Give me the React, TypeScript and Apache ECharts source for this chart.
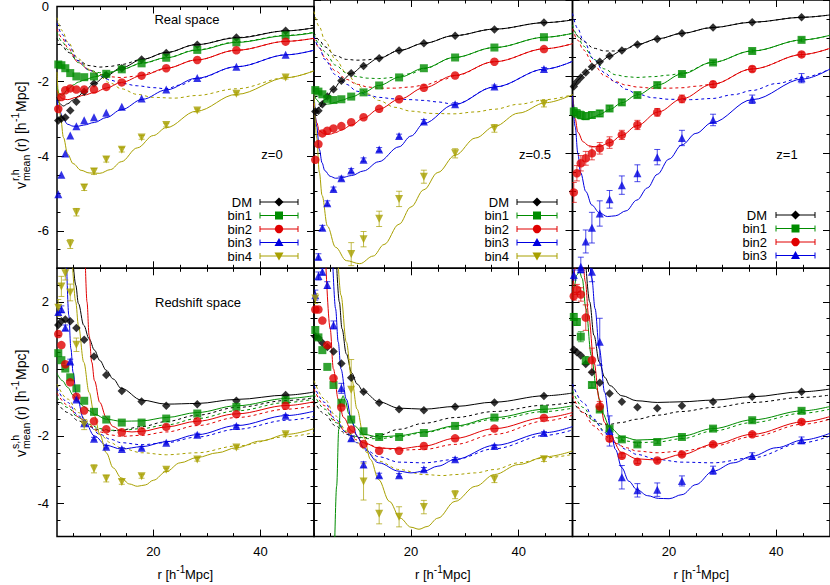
import React, { useEffect, useRef } from 'react';
import * as echarts from 'echarts';

const FONT = '"Liberation Sans", Arial, Helvetica, sans-serif';

// ---------- separation bins (h^-1 Mpc) ----------
const R = [2.24, 2.82, 3.55, 4.47, 5.62, 7.08, 8.91, 11.2, 14.1, 17.8, 22.4, 28.2, 35.5, 44.7];

// ---------- tick values ----------
const X_MAJOR = [20, 40];
const X_MINOR = [5, 10, 15, 25, 30, 35, 45, 50];
const Y_TOP_MAJOR = [-6, -4, -2, 0];
const Y_TOP_MINOR = [-6.5, -5.5, -5, -4.5, -3.5, -3, -2.5, -1.5, -1, -0.5];
const Y_BOT_MAJOR = [-4, -2, 0, 2];
const Y_BOT_MINOR = [-4.5, -3.5, -3, -2.5, -1.5, -1, -0.5, 0.5, 1, 1.5, 2.5];

const LEGEND_KEYS = ['dm', 'b1', 'b2', 'b3', 'b4'];
const LEGEND_LABELS = ['DM', 'bin1', 'bin2', 'bin3', 'bin4'];

// ================= REAL SPACE, z=0 =================
const rz0_dm = [-3.05, -3.0, -2.97, -2.78, -2.55, -2.28, -2.06, -1.84, -1.65, -1.42, -1.24, -1.02, -0.83, -0.65];
const rz0_b1 = [-1.55, -1.57, -1.65, -1.78, -1.87, -1.89, -1.87, -1.8, -1.68, -1.52, -1.37, -1.16, -0.96, -0.77];
const rz0_b2 = [-2.74, -2.42, -2.24, -2.19, -2.22, -2.22, -2.22, -2.15, -2.03, -1.85, -1.65, -1.43, -1.17, -0.94];
const rz0_b3 = [-5.02, -4.5, -3.93, -3.45, -3.2, -3.04, -2.96, -2.84, -2.68, -2.46, -2.22, -1.91, -1.61, -1.29];
const rz0_b4 = [null, null, null, -6.35, -5.5, -4.84, -4.41, -4.09, -3.83, -3.5, -3.17, -2.78, -2.33, -1.9];
const rz0_b4_err = [0, 0, 0, 0.12, 0.1, 0.08, 0.08, 0.07, 0.06, 0.05, 0.05, 0.04, 0.04, 0.04];

const rz0_dm_fit = [[2, -2.42], [2.5, -2.6], [3.2, -2.66], [4, -2.6], [5, -2.5], [6, -2.4], [7, -2.27], [9, -2.05], [11.2, -1.85], [14, -1.64], [18, -1.41], [22.4, -1.23], [28, -1.02], [35.5, -0.84], [45, -0.65], [50, -0.57]];
const rz0_dm_dash = [[2, -0.85], [3, -1.05], [4, -1.22], [6, -1.45], [8, -1.58], [10, -1.62], [12, -1.6], [14, -1.55], [18, -1.41], [22.4, -1.23], [28, -1.02], [35.5, -0.83], [45, -0.65], [50, -0.57]];
const rz0_b1_fit = [[2, -2.15], [2.5, -2.35], [3, -2.37], [4, -2.22], [5, -2.1], [6, -2.02], [7, -1.97], [9, -1.88], [11.2, -1.8], [14, -1.68], [18, -1.51], [22.4, -1.37], [28, -1.17], [35.5, -0.96], [45, -0.78], [50, -0.7]];
const rz0_b1_dash = [[2, -0.7], [3, -0.95], [4, -1.15], [6, -1.5], [8, -1.7], [10, -1.77], [12, -1.75], [14, -1.68], [18, -1.52], [22.4, -1.37], [28, -1.16], [35.5, -0.95], [45, -0.77], [50, -0.69]];
const rz0_b2_fit = [[2, -2.25], [2.5, -2.4], [3, -2.47], [4, -2.49], [5.6, -2.43], [7, -2.37], [9, -2.3], [11.2, -2.18], [14, -2.03], [18, -1.84], [22.4, -1.65], [28, -1.43], [35.5, -1.17], [45, -0.93], [50, -0.85]];
const rz0_b2_dash = [[2, -0.6], [3, -0.85], [4, -1.1], [6, -1.5], [8, -1.7], [10, -1.82], [12, -1.88], [14, -1.9], [17, -1.86], [20, -1.75], [22.4, -1.65], [28, -1.43], [35.5, -1.17], [45, -0.93], [50, -0.85]];
const rz0_b3_fit = [[2, -2.5], [2.5, -2.78], [3, -2.97], [4, -3.15], [5, -3.2], [6, -3.2], [7, -3.17], [9, -3.1], [11.2, -2.97], [14, -2.76], [18, -2.48], [22.4, -2.23], [28, -1.92], [35.5, -1.61], [45, -1.29], [50, -1.17]];
const rz0_b3_dash = [[2, -0.45], [3, -0.75], [4, -1.0], [6, -1.45], [8, -1.7], [10, -1.86], [12, -1.97], [14, -2.05], [17, -2.12], [20, -2.17], [22.4, -2.2], [25, -2.1], [28, -1.93], [35.5, -1.61], [45, -1.29], [50, -1.17]];
const rz0_b4_fit = [[2, -1.75], [2.3, -2.4], [2.7, -3.0], [3.2, -3.5], [4, -3.95], [5, -4.2], [6.5, -4.38], [8, -4.45], [10, -4.46], [12, -4.36], [14, -4.15], [17, -3.78], [20, -3.45], [22.4, -3.24], [28, -2.8], [35.5, -2.35], [45, -1.9], [50, -1.72]];
const rz0_b4_dash = [[2, -0.3], [3, -0.65], [4, -0.95], [6, -1.4], [8, -1.68], [10, -1.88], [12, -2.05], [14, -2.2], [17, -2.35], [20, -2.43], [24, -2.45], [28, -2.38], [35.5, -2.2], [45, -1.9], [50, -1.72]];

// ================= REAL SPACE, z=0.5 =================
const rz05_dm = [-2.91, -2.89, -2.72, -2.52, -2.33, -2.11, -1.91, -1.72, -1.52, -1.32, -1.13, -0.93, -0.77, -0.59];
const rz05_b1 = [-2.35, -2.39, -2.46, -2.58, -2.61, -2.59, -2.52, -2.41, -2.23, -2.02, -1.78, -1.5, -1.24, -0.97];
const rz05_b2 = [-4.17, -3.76, -3.48, -3.41, -3.35, -3.29, -3.19, -3.06, -2.84, -2.59, -2.29, -1.97, -1.61, -1.28];
const rz05_b3 = [null, -6.7, -5.94, -5.3, -4.93, -4.65, -4.45, -4.17, -3.9, -3.55, -3.17, -2.72, -2.26, -1.8];
const rz05_b4 = [null, null, null, null, null, null, -6.63, -6.24, -5.71, -5.19, -4.61, -4.0, -3.35, -2.71];
const rz05_b3_err = [0, 0.08, 0.06, 0.06, 0.05, 0.05, 0.05, 0.05, 0.05, 0.05, 0.05, 0.04, 0.04, 0.04];
const rz05_b4_err = [0, 0, 0, 0, 0, 0, 0.3, 0.2, 0.2, 0.2, 0.17, 0.12, 0.1, 0.08];

const rz05_dm_fit = [[2, -2.97], [3, -2.8], [4, -2.6], [5.6, -2.33], [7, -2.12], [9, -1.91], [11.2, -1.72], [14, -1.52], [18, -1.31], [22.4, -1.13], [28, -0.93], [35.5, -0.76], [45, -0.59], [50, -0.52]];
const rz05_dm_dash = [[2, -0.85], [3, -1.05], [4, -1.22], [6, -1.45], [8, -1.55], [10, -1.57], [12, -1.56], [14, -1.51], [18, -1.31], [22.4, -1.13], [28, -0.93], [35.5, -0.76], [45, -0.59], [50, -0.52]];
const rz05_b1_fit = [[2, -2.45], [2.5, -2.6], [3, -2.68], [4, -2.72], [5, -2.71], [6, -2.67], [7, -2.62], [9, -2.53], [11.2, -2.41], [14, -2.23], [18, -2.01], [22.4, -1.78], [28, -1.5], [35.5, -1.24], [45, -0.97], [50, -0.87]];
const rz05_b1_dash = [[2, -0.9], [3, -1.15], [4, -1.35], [6, -1.7], [8, -1.9], [10, -2.0], [12, -2.04], [14, -2.05], [17, -2.02], [20, -1.92], [22.4, -1.79], [28, -1.5], [35.5, -1.24], [45, -0.97], [50, -0.87]];
const rz05_b2_fit = [[2, -2.7], [2.5, -3.2], [3, -3.42], [4, -3.5], [5, -3.5], [6, -3.46], [7, -3.4], [9, -3.26], [11.2, -3.08], [14, -2.85], [18, -2.58], [22.4, -2.29], [28, -1.97], [35.5, -1.61], [45, -1.27], [50, -1.14]];
const rz05_b2_dash = [[2, -1.0], [3, -1.25], [4, -1.5], [6, -1.85], [8, -2.07], [10, -2.2], [12, -2.27], [14, -2.3], [17, -2.3], [20, -2.27], [22.4, -2.22], [26, -2.08], [28, -1.98], [35.5, -1.61], [45, -1.27], [50, -1.14]];
const rz05_b3_fit = [[2, -2.4], [2.5, -3.3], [3, -3.9], [3.5, -4.25], [4, -4.45], [5, -4.6], [6, -4.65], [7, -4.64], [9, -4.58], [11.2, -4.46], [14, -4.22], [17.8, -3.83], [20, -3.55], [22.4, -3.22], [28, -2.73], [35.5, -2.27], [45, -1.8], [50, -1.6]];
const rz05_b3_dash = [[2, -0.95], [3, -1.25], [4, -1.55], [6, -1.95], [8, -2.2], [10, -2.38], [12, -2.48], [14, -2.54], [17, -2.58], [20, -2.6], [22.4, -2.62], [25, -2.66], [28, -2.72], [35.5, -2.27], [45, -1.8], [50, -1.6]];
const rz05_b4_fit = [[2, -2.4], [2.5, -3.6], [3, -4.5], [3.5, -5.1], [4.5, -5.9], [6, -6.45], [8, -6.8], [10.5, -6.88], [13, -6.68], [15, -6.38], [17.8, -5.85], [20, -5.4], [22.4, -4.95], [25, -4.5], [28.2, -4.05], [32, -3.6], [35.5, -3.3], [40, -2.95], [45, -2.68], [50, -2.47]];
const rz05_b4_dash = [[2, -0.3], [3, -0.7], [4, -1.05], [6, -1.55], [8, -1.9], [10, -2.2], [12, -2.45], [14, -2.62], [17, -2.8], [20, -2.9], [24, -2.96], [28, -2.97], [32, -2.92], [35.5, -2.85], [40, -2.72], [45, -2.6], [50, -2.47]];

// ================= REAL SPACE, z=1 =================
const rz1_dm = [-2.26, -2.13, -2.02, -1.89, -1.74, -1.61, -1.46, -1.32, -1.16, -1.02, -0.87, -0.72, -0.58, -0.45];
const rz1_b1 = [-2.91, -2.96, -3.0, -3.03, -3.0, -2.96, -2.83, -2.67, -2.48, -2.22, -1.93, -1.63, -1.33, -1.04];
const rz1_b2 = [-5.02, -4.52, -4.26, -4.13, -4.0, -3.87, -3.72, -3.52, -3.26, -2.93, -2.58, -2.2, -1.8, -1.42];
const rz1_b3 = [null, null, -6.96, -6.3, -5.94, -5.57, -5.2, -4.83, -4.52, -4.1, -3.6, -3.13, -2.59, -2.04];
const rz1_b1_err = [0.1, 0.1, 0.1, 0.09, 0.08, 0.08, 0.07, 0.07, 0.06, 0.06, 0.05, 0.05, 0.05, 0.05];
const rz1_b2_err = [0.26, 0.2, 0.2, 0.18, 0.17, 0.15, 0.15, 0.12, 0.12, 0.1, 0.1, 0.08, 0.07, 0.06];
const rz1_b3_err = [0, 0, 0.25, 0.3, 0.4, 0.33, 0.23, 0.24, 0.22, 0.2, 0.2, 0.15, 0.11, 0.12];

const rz1_dm_fit = [[2, -2.36], [2.5, -2.2], [3, -2.09], [4, -1.95], [5, -1.82], [6, -1.71], [7, -1.62], [9, -1.46], [11.2, -1.32], [14, -1.16], [18, -1.01], [22.4, -0.87], [28, -0.72], [35.5, -0.58], [45, -0.45], [50, -0.39]];
const rz1_dm_dash = [[2, -0.75], [3, -0.93], [4, -1.08], [6, -1.26], [8, -1.33], [10, -1.33], [12, -1.27], [14, -1.17], [18, -1.01], [22.4, -0.87], [28, -0.72], [35.5, -0.58], [45, -0.45], [50, -0.39]];
const rz1_b1_fit = [[2, -2.5], [2.5, -2.9], [3, -3.07], [4, -3.12], [5, -3.1], [6, -3.05], [7, -2.99], [9, -2.85], [11.2, -2.68], [14, -2.48], [18, -2.21], [22.4, -1.93], [28, -1.63], [35.5, -1.33], [45, -1.04], [50, -0.92]];
const rz1_b1_dash = [[2, -0.65], [3, -0.95], [4, -1.2], [6, -1.55], [8, -1.8], [10, -1.95], [12, -2.0], [14, -2.02], [17, -2.0], [20, -1.96], [22.4, -1.91], [28, -1.63], [35.5, -1.33], [45, -1.04], [50, -0.92]];
const rz1_b2_fit = [[2, -2.5], [2.5, -3.1], [3, -3.45], [4, -3.7], [5, -3.8], [6, -3.83], [7, -3.82], [9, -3.72], [11.2, -3.53], [14, -3.28], [18, -2.92], [22.4, -2.58], [28, -2.2], [35.5, -1.8], [45, -1.42], [50, -1.26]];
const rz1_b2_dash = [[2, -0.75], [3, -1.05], [4, -1.3], [6, -1.7], [8, -1.98], [10, -2.13], [12, -2.22], [14, -2.27], [17, -2.3], [20, -2.3], [22.4, -2.29], [25, -2.25], [28, -2.2], [35.5, -1.8], [45, -1.42], [50, -1.26]];
const rz1_b3_fit = [[2, -2.5], [2.5, -3.3], [3, -4.0], [3.5, -4.5], [4.5, -5.0], [5.6, -5.35], [7, -5.55], [8.5, -5.65], [10, -5.63], [12, -5.5], [14, -5.22], [16, -4.9], [17.8, -4.55], [20, -4.15], [22.4, -3.78], [25, -3.48], [28, -3.2], [35.5, -2.6], [45, -2.06], [50, -1.8]];
const rz1_b3_dash = [[2, -0.35], [3, -0.75], [4, -1.05], [6, -1.55], [8, -1.9], [10, -2.15], [12, -2.33], [14, -2.45], [17, -2.55], [20, -2.59], [24, -2.6], [28, -2.57], [32, -2.47], [35.5, -2.36], [40, -2.18], [45, -2.02], [50, -1.8]];

// ================= REDSHIFT SPACE, z=0 =================
const sz0_dm = [1.31, 1.42, 1.47, 1.42, 1.22, 0.87, 0.37, -0.18, -0.66, -0.97, -1.1, -1.05, -0.95, -0.78];
const sz0_b1 = [0.47, 0.26, 0.01, -0.25, -0.58, -0.95, -1.28, -1.51, -1.6, -1.6, -1.48, -1.33, -1.13, -0.93];
const sz0_b2 = [1.04, 0.71, 0.14, -0.4, -0.83, -1.24, -1.56, -1.8, -1.89, -1.86, -1.73, -1.56, -1.35, -1.1];
const sz0_b3 = [1.7, 1.78, 1.23, 0.22, -0.91, -1.62, -2.08, -2.32, -2.39, -2.35, -2.2, -1.96, -1.7, -1.4];
const sz0_b4 = [1.82, 2.46, 2.85, 2.28, 0.72, -1.66, -2.98, -3.27, -3.37, -3.2, -3.01, -2.7, -2.34, -1.95];
const sz0_b3_err = [0.1, 0.1, 0.08, 0.07, 0.05, 0.05, 0.04, 0.04, 0.04, 0.04, 0.04, 0.04, 0.04, 0.04];
const sz0_b4_err = [0.25, 0.3, 0.2, 0.25, 0.2, 0.15, 0.12, 0.1, 0.07, 0.06, 0.05, 0.05, 0.05, 0.05];

const sz0_dm_fit = [[5.05, 3.1], [5.5, 2.5], [6, 1.95], [7, 1.3], [8, 0.9], [9, 0.56], [10, 0.25], [11.2, -0.04], [12.5, -0.3], [14, -0.58], [17.8, -0.93], [22.4, -1.05], [28.2, -1.03], [35.5, -0.91], [45, -0.78], [50, -0.69]];
const sz0_dm_dash = [[2, -1.0], [4, -1.3], [6, -1.55], [8, -1.72], [10, -1.82], [12, -1.85], [14, -1.82], [17.8, -1.72], [22.4, -1.57], [28.2, -1.38], [35.5, -1.15], [45, -0.94], [50, -0.86]];
const sz0_b1_fit = [[2, -0.13], [3, -0.35], [4, -0.55], [5, -0.78], [6, -0.98], [7, -1.12], [8, -1.25], [9, -1.35], [11.2, -1.5], [14, -1.56], [17.8, -1.55], [22.4, -1.45], [28.2, -1.3], [35.5, -1.1], [45, -0.88], [50, -0.8]];
const sz0_b1_dash = [[2, -0.85], [4, -1.15], [6, -1.45], [8, -1.65], [10, -1.78], [12, -1.83], [14, -1.83], [17.8, -1.78], [22.4, -1.67], [28.2, -1.48], [35.5, -1.25], [45, -1.0], [50, -0.9]];
const sz0_b2_fit = [[7.3, 3.1], [7.6, 2.0], [8, 1.0], [8.5, 0.2], [9, -0.35], [10, -1.0], [11.2, -1.45], [12.5, -1.72], [14, -1.85], [16, -1.88], [17.8, -1.86], [22.4, -1.73], [28.2, -1.56], [35.5, -1.34], [45, -1.09], [50, -0.98]];
const sz0_b2_dash = [[2, -0.72], [4, -1.08], [6, -1.43], [8, -1.7], [10, -1.88], [12, -1.97], [14, -2.01], [17.8, -1.98], [22.4, -1.88], [28.2, -1.69], [35.5, -1.45], [45, -1.2], [50, -1.1]];
const sz0_b3_fit = [[3.8, 3.1], [4.2, 1.6], [4.6, 0.6], [5, -0.1], [5.6, -0.75], [7, -1.5], [9, -2.0], [11.2, -2.28], [14, -2.39], [17.8, -2.32], [22.4, -2.17], [28.2, -1.96], [35.5, -1.69], [45, -1.39], [50, -1.26]];
const sz0_b3_dash = [[2, -0.58], [4, -1.0], [6, -1.4], [8, -1.72], [10, -1.95], [12, -2.1], [14, -2.2], [17.8, -2.26], [22.4, -2.2], [28.2, -2.03], [35.5, -1.8], [45, -1.53], [50, -1.42]];
const sz0_b4_fit = [[4.9, 3.1], [5.5, 2.0], [6, 1.3], [7, 0.2], [8, -0.7], [9, -1.4], [10, -1.95], [11.2, -2.5], [12.5, -2.95], [14, -3.25], [15.5, -3.43], [17, -3.5], [18.5, -3.46], [20, -3.32], [22.4, -3.06], [25, -2.8], [28.2, -2.64], [32, -2.5], [35.5, -2.35], [40, -2.15], [45, -1.95], [50, -1.78]];
const sz0_b4_dash = [[2, -0.45], [4, -0.9], [6, -1.3], [8, -1.65], [10, -1.95], [12, -2.2], [14, -2.36], [17.8, -2.5], [22.4, -2.56], [28.2, -2.5], [35.5, -2.3], [45, -2.02], [50, -1.9]];

// ================= REDSHIFT SPACE, z=0.5 =================
const sz05_dm = [0.97, 0.92, 0.78, 0.65, 0.52, 0.16, -0.26, -0.68, -1.01, -1.2, -1.23, -1.13, -1.0, -0.81];
const sz05_b1 = [1.16, 0.94, 0.56, 0.06, -0.48, -1.01, -1.51, -1.86, -2.03, -2.03, -1.91, -1.7, -1.45, -1.2];
const sz05_b2 = [1.77, 1.77, 1.44, 0.71, -0.28, -1.15, -1.81, -2.24, -2.44, -2.44, -2.3, -2.07, -1.78, -1.46];
const sz05_b3 = [2.2, 2.77, 2.9, 2.5, 1.31, -0.58, -2.07, -2.85, -3.17, -3.17, -2.99, -2.69, -2.3, -1.91];
const sz05_b4 = [2.1, null, null, null, null, null, -0.62, -3.36, -4.32, -4.41, -4.12, -3.75, -3.29, -2.69];
const sz05_b3_err = [0.15, 0.12, 0.1, 0.1, 0.12, 0.15, 0.08, 0.08, 0.06, 0.05, 0.05, 0.05, 0.04, 0.04];
const sz05_b4_err = [0.15, 0, 0, 0, 0, 0, 0.9, 0.55, 0.3, 0.3, 0.2, 0.12, 0.1, 0.07];

const sz05_dm_fit = [[6.2, 3.1], [6.7, 2.0], [7.2, 1.2], [8, 0.45], [9, -0.12], [10, -0.45], [11.2, -0.68], [14, -0.98], [17.8, -1.17], [22.4, -1.2], [28.2, -1.12], [35.5, -0.99], [45, -0.8], [50, -0.72]];
const sz05_dm_dash = [[2, -0.95], [4, -1.35], [6, -1.7], [8, -1.95], [10, -2.05], [12, -2.05], [14, -1.98], [17.8, -1.8], [22.4, -1.62], [28.2, -1.45], [35.5, -1.27], [45, -1.08], [50, -1.0]];
const sz05_b1_fit = [[5.8, -5.5], [6.2, -3.5], [6.6, -1.8], [7.0, -0.95], [7.4, -0.8], [7.8, -0.95], [8.5, -1.35], [9.5, -1.7], [11.2, -1.95], [14, -2.03], [17.8, -1.99], [22.4, -1.88], [28.2, -1.7], [35.5, -1.45], [45, -1.2], [50, -1.1]];
const sz05_b1_dash = [[2, -0.75], [4, -1.2], [6, -1.6], [8, -1.88], [10, -2.02], [12, -2.08], [14, -2.08], [17.8, -2.02], [22.4, -1.9], [28.2, -1.72], [35.5, -1.5], [45, -1.27], [50, -1.17]];
const sz05_b2_fit = [[4.2, 3.1], [5, 1.2], [5.6, 0.0], [6.5, -0.9], [7.5, -1.45], [9, -1.85], [11.2, -2.2], [14, -2.36], [17.8, -2.38], [22.4, -2.3], [28.2, -2.07], [35.5, -1.78], [45, -1.45], [50, -1.3]];
const sz05_b2_dash = [[2, -0.6], [4, -1.1], [6, -1.55], [8, -1.9], [10, -2.12], [12, -2.25], [14, -2.35], [17.8, -2.42], [22.4, -2.4], [28.2, -2.25], [35.5, -1.95], [45, -1.55], [50, -1.38]];
const sz05_b3_fit = [[5.5, 3.1], [6, 1.8], [6.5, 0.8], [7, 0.0], [8, -0.9], [9, -1.55], [10, -2.0], [11.2, -2.35], [14, -2.8], [17.8, -3.05], [20, -3.1], [22.4, -3.05], [25, -2.9], [28.2, -2.7], [35.5, -2.28], [45, -1.9], [50, -1.72]];
const sz05_b3_dash = [[2, -0.5], [4, -1.0], [6, -1.5], [8, -1.9], [10, -2.2], [12, -2.45], [14, -2.62], [17.8, -2.78], [22.4, -2.8], [28.2, -2.7], [35.5, -2.38], [45, -1.98], [50, -1.82]];
const sz05_b4_fit = [[6.5, 3.1], [7, 2.2], [8, 0.8], [9, -0.3], [10, -1.2], [11.2, -2.0], [12.5, -2.7], [14, -3.3], [16, -3.95], [18, -4.45], [20, -4.72], [21.5, -4.78], [23, -4.7], [25, -4.45], [28.2, -3.95], [32, -3.5], [35.5, -3.15], [40, -2.85], [45, -2.62], [50, -2.45]];
const sz05_b4_dash = [[2, -0.35], [4, -0.9], [6, -1.4], [8, -1.85], [10, -2.2], [12, -2.5], [14, -2.75], [17.8, -3.0], [22.4, -3.15], [26, -3.18], [28.2, -3.15], [32, -3.1], [35.5, -3.0], [40, -2.8], [45, -2.65], [50, -2.55]];

// ================= REDSHIFT SPACE, z=1 =================
const sz1_dm = [0.57, 0.5, 0.4, 0.15, -0.1, -0.41, -0.73, -0.98, -1.14, -1.17, -1.1, -0.98, -0.83, -0.68];
const sz1_b1 = [1.55, 1.4, 0.96, 0.25, -0.48, -1.21, -1.78, -2.1, -2.25, -2.18, -2.03, -1.78, -1.53, -1.25];
const sz1_b2 = [2.17, 2.37, 2.22, 1.53, 0.26, -1.12, -2.08, -2.59, -2.77, -2.73, -2.55, -2.25, -1.95, -1.58];
const sz1_b3 = [2.8, null, 2.97, null, 2.9, 0.81, -1.85, -3.23, -3.62, -3.6, -3.34, -3.02, -2.6, -2.13];
const sz1_b1_err = [0.1, 0.1, 0.15, 0.12, 0.08, 0.06, 0.05, 0.05, 0.05, 0.05, 0.05, 0.05, 0.05, 0.05];
const sz1_b2_err = [0.12, 0.15, 0.2, 0.38, 0.36, 0.15, 0.08, 0.06, 0.05, 0.05, 0.05, 0.05, 0.05, 0.05];
const sz1_b3_err = [0.15, 0, 0.1, 0, 0.3, 0.7, 0.45, 0.35, 0.2, 0.2, 0.15, 0.12, 0.1, 0.1];

const sz1_dm_fit = [[4.5, 3.1], [5.2, 2.0], [6, 1.0], [7, 0.2], [8, -0.25], [9, -0.5], [11.2, -0.8], [14, -0.95], [17.8, -1.0], [22.4, -0.98], [28.2, -0.93], [35.5, -0.83], [45, -0.68], [50, -0.6]];
const sz1_dm_dash = [[2, -0.95], [4, -1.3], [6, -1.55], [7.5, -1.65], [9, -1.65], [11, -1.6], [14, -1.5], [17.8, -1.38], [22.4, -1.27], [28.2, -1.15], [35.5, -1.0], [45, -0.85], [50, -0.78]];
const sz1_b1_fit = [[2, 2.1], [2.3, 2.45], [2.8, 2.8], [3.3, 2.9], [3.8, 2.7], [4.5, 1.8], [5.5, 0.4], [6.5, -0.6], [7.5, -1.3], [9, -1.75], [11.2, -2.02], [14, -2.12], [17.8, -2.1], [22.4, -2.0], [28.2, -1.78], [35.5, -1.52], [45, -1.25], [50, -1.12]];
const sz1_b1_dash = [[2, -0.65], [4, -1.15], [6, -1.55], [8, -1.85], [10, -2.05], [12, -2.15], [14, -2.2], [17.8, -2.18], [22.4, -2.08], [28.2, -1.85], [35.5, -1.6], [45, -1.32], [50, -1.2]];
const sz1_b2_fit = [[2, 2.3], [2.5, 3.0], [3, 3.4], [3.8, 3.4], [4.4, 2.6], [5, 1.6], [6, 0.2], [7, -0.9], [8, -1.6], [9, -2.0], [11.2, -2.5], [14, -2.68], [17.8, -2.72], [22.4, -2.55], [28.2, -2.25], [35.5, -1.95], [45, -1.58], [50, -1.42]];
const sz1_b2_dash = [[2, -0.8], [4, -1.3], [6, -1.7], [8, -2.0], [10, -2.22], [12, -2.35], [14, -2.45], [17.8, -2.5], [22.4, -2.45], [28.2, -2.3], [35.5, -2.02], [45, -1.65], [50, -1.5]];
const sz1_b3_fit = [[5.2, 3.2], [5.6, 2.7], [6.2, 1.8], [7, 0.6], [8, -0.7], [9, -1.7], [10, -2.4], [11.2, -2.95], [12.5, -3.35], [14, -3.6], [16, -3.78], [18, -3.86], [20, -3.87], [22.4, -3.75], [25, -3.45], [28.2, -3.05], [32, -2.8], [35.5, -2.6], [40, -2.35], [45, -2.12], [50, -1.92]];
const sz1_b3_dash = [[2, -0.45], [4, -1.0], [6, -1.5], [8, -1.9], [10, -2.2], [12, -2.4], [14, -2.55], [17.8, -2.7], [22.4, -2.78], [28.2, -2.8], [35.5, -2.65], [45, -2.2], [50, -2.0]];

// ---------- styles ----------
const STYLE: Record<string, { color: string; symbol: string; size: number; rotate: number }> = {
  dm: { color: '#000000', symbol: 'diamond', size: 8.5, rotate: 0 },
  b1: { color: '#008c00', symbol: 'rect', size: 8, rotate: 0 },
  b2: { color: '#e00000', symbol: 'circle', size: 8.5, rotate: 0 },
  b3: { color: '#0000e0', symbol: 'triangle', size: 8, rotate: 0 },
  b4: { color: '#a8a000', symbol: 'triangle', size: 8, rotate: 180 },
};

type Bin = { key: string; pts: (number | null)[]; err: number[] | null; fit: number[][]; dash: number[][] };
type Panel = { row: number; col: number; bins: Bin[] };

const PANELS: Panel[] = [
  { row: 0, col: 0, bins: [
    { key: 'dm', pts: rz0_dm, err: null, fit: rz0_dm_fit, dash: rz0_dm_dash },
    { key: 'b1', pts: rz0_b1, err: null, fit: rz0_b1_fit, dash: rz0_b1_dash },
    { key: 'b2', pts: rz0_b2, err: null, fit: rz0_b2_fit, dash: rz0_b2_dash },
    { key: 'b3', pts: rz0_b3, err: null, fit: rz0_b3_fit, dash: rz0_b3_dash },
    { key: 'b4', pts: rz0_b4, err: rz0_b4_err, fit: rz0_b4_fit, dash: rz0_b4_dash },
  ] },
  { row: 0, col: 1, bins: [
    { key: 'dm', pts: rz05_dm, err: null, fit: rz05_dm_fit, dash: rz05_dm_dash },
    { key: 'b1', pts: rz05_b1, err: null, fit: rz05_b1_fit, dash: rz05_b1_dash },
    { key: 'b2', pts: rz05_b2, err: null, fit: rz05_b2_fit, dash: rz05_b2_dash },
    { key: 'b3', pts: rz05_b3, err: rz05_b3_err, fit: rz05_b3_fit, dash: rz05_b3_dash },
    { key: 'b4', pts: rz05_b4, err: rz05_b4_err, fit: rz05_b4_fit, dash: rz05_b4_dash },
  ] },
  { row: 0, col: 2, bins: [
    { key: 'dm', pts: rz1_dm, err: null, fit: rz1_dm_fit, dash: rz1_dm_dash },
    { key: 'b1', pts: rz1_b1, err: rz1_b1_err, fit: rz1_b1_fit, dash: rz1_b1_dash },
    { key: 'b2', pts: rz1_b2, err: rz1_b2_err, fit: rz1_b2_fit, dash: rz1_b2_dash },
    { key: 'b3', pts: rz1_b3, err: rz1_b3_err, fit: rz1_b3_fit, dash: rz1_b3_dash },
  ] },
  { row: 1, col: 0, bins: [
    { key: 'dm', pts: sz0_dm, err: null, fit: sz0_dm_fit, dash: sz0_dm_dash },
    { key: 'b1', pts: sz0_b1, err: null, fit: sz0_b1_fit, dash: sz0_b1_dash },
    { key: 'b2', pts: sz0_b2, err: null, fit: sz0_b2_fit, dash: sz0_b2_dash },
    { key: 'b3', pts: sz0_b3, err: sz0_b3_err, fit: sz0_b3_fit, dash: sz0_b3_dash },
    { key: 'b4', pts: sz0_b4, err: sz0_b4_err, fit: sz0_b4_fit, dash: sz0_b4_dash },
  ] },
  { row: 1, col: 1, bins: [
    { key: 'dm', pts: sz05_dm, err: null, fit: sz05_dm_fit, dash: sz05_dm_dash },
    { key: 'b1', pts: sz05_b1, err: null, fit: sz05_b1_fit, dash: sz05_b1_dash },
    { key: 'b2', pts: sz05_b2, err: null, fit: sz05_b2_fit, dash: sz05_b2_dash },
    { key: 'b3', pts: sz05_b3, err: sz05_b3_err, fit: sz05_b3_fit, dash: sz05_b3_dash },
    { key: 'b4', pts: sz05_b4, err: sz05_b4_err, fit: sz05_b4_fit, dash: sz05_b4_dash },
  ] },
  { row: 1, col: 2, bins: [
    { key: 'dm', pts: sz1_dm, err: null, fit: sz1_dm_fit, dash: sz1_dm_dash },
    { key: 'b1', pts: sz1_b1, err: sz1_b1_err, fit: sz1_b1_fit, dash: sz1_b1_dash },
    { key: 'b2', pts: sz1_b2, err: sz1_b2_err, fit: sz1_b2_fit, dash: sz1_b2_dash },
    { key: 'b3', pts: sz1_b3, err: sz1_b3_err, fit: sz1_b3_fit, dash: sz1_b3_dash },
  ] },
];

// ---------- layout ----------
const COL_LEFT = [57, 314, 572.5];
const COL_WIDTH = [257, 258.5, 258];
const ROW_TOP = [0, 268.3];
const ROW_HEIGHT = 268.3;
const Y_RANGE = [[-7, 0], [-5, 3]];

function buildAxes() {
  const xAxes: any[] = [];
  const yAxes: any[] = [];
  const tick = (vals: number[], len: number) => ({
    show: true, inside: true, length: len, customValues: vals,
    lineStyle: { color: '#000', width: 1 },
  });
  const noLine = { show: false, onZero: false };
  PANELS.forEach((p, gi) => {
    const bottomRow = p.row === 1;
    const leftCol = p.col === 0;
    const xb = { type: 'value', gridIndex: gi, min: 2, max: 50, splitLine: { show: false }, axisLine: noLine };
    xAxes.push({ ...xb, position: 'bottom', axisTick: tick(X_MAJOR, 7),
      axisLabel: { show: bottomRow, customValues: X_MAJOR, margin: 8, fontSize: 13, color: '#000', fontFamily: FONT } });
    xAxes.push({ ...xb, position: 'bottom', axisTick: tick(X_MINOR, 3.5), axisLabel: { show: false, customValues: X_MINOR } });
    xAxes.push({ ...xb, position: 'top', axisTick: tick(X_MAJOR, 7), axisLabel: { show: false, customValues: X_MAJOR } });
    xAxes.push({ ...xb, position: 'top', axisTick: tick(X_MINOR, 3.5), axisLabel: { show: false, customValues: X_MINOR } });
    const [ymin, ymax] = Y_RANGE[p.row];
    const major = p.row === 0 ? Y_TOP_MAJOR : Y_BOT_MAJOR;
    const minor = p.row === 0 ? Y_TOP_MINOR : Y_BOT_MINOR;
    const yb = { type: 'value', gridIndex: gi, min: ymin, max: ymax, splitLine: { show: false }, axisLine: noLine };
    yAxes.push({ ...yb, position: 'left', axisTick: tick(major, 7),
      axisLabel: { show: leftCol, customValues: major, margin: 8, fontSize: 13, color: '#000', fontFamily: FONT, showMinLabel: true, showMaxLabel: true } });
    yAxes.push({ ...yb, position: 'left', axisTick: tick(minor, 3.5), axisLabel: { show: false, customValues: minor } });
    yAxes.push({ ...yb, position: 'right', axisTick: tick(major, 7), axisLabel: { show: false, customValues: major } });
    yAxes.push({ ...yb, position: 'right', axisTick: tick(minor, 3.5), axisLabel: { show: false, customValues: minor } });
  });
  return { xAxes, yAxes };
}

function buildSeries() {
  const series: any[] = [];
  PANELS.forEach((p, gi) => {
    const ax = { xAxisIndex: gi * 4, yAxisIndex: gi * 4 };
    p.bins.forEach((b) => {
      const st = STYLE[b.key];
      series.push({
        type: 'line', ...ax, data: b.dash, smooth: 0.35, smoothMonotone: 'x', showSymbol: false, symbol: 'none',
        lineStyle: { color: st.color, width: 1, type: [3, 3] }, silent: true, z: 2, clip: true,
      });
      series.push({
        type: 'line', ...ax, data: b.fit, smooth: 0.35, smoothMonotone: 'x', showSymbol: false, symbol: 'none',
        lineStyle: { color: st.color, width: 1 }, silent: true, z: 3, clip: true,
      });
    });
    p.bins.forEach((b) => {
      const st = STYLE[b.key];
      if (b.err) {
        const errRows = R.map((r, i) => (b.pts[i] == null || !b.err![i] ? null : [r, b.pts[i], b.err![i]]))
          .filter((d) => d !== null);
        series.push({
          type: 'custom', ...ax, data: errRows, clip: true, silent: true, z: 4,
          encode: { x: 0, y: 1 },
          renderItem: (_params: any, api: any) => {
            const x = api.value(0), y = api.value(1), e = api.value(2);
            const a = api.coord([x, y + e]);
            const c = api.coord([x, y - e]);
            const w = 3;
            const s = { stroke: st.color, lineWidth: 1, opacity: 0.7 };
            return {
              type: 'group',
              children: [
                { type: 'line', shape: { x1: a[0], y1: a[1], x2: c[0], y2: c[1] }, style: s },
                { type: 'line', shape: { x1: a[0] - w, y1: a[1], x2: a[0] + w, y2: a[1] }, style: s },
                { type: 'line', shape: { x1: c[0] - w, y1: c[1], x2: c[0] + w, y2: c[1] }, style: s },
              ],
            };
          },
        });
      }
    });
    p.bins.forEach((b) => {
      const st = STYLE[b.key];
      series.push({
        type: 'scatter', ...ax,
        data: R.map((r, i) => (b.pts[i] == null ? null : [r, b.pts[i]])).filter((d) => d !== null),
        symbol: st.symbol, symbolSize: st.size, symbolRotate: st.rotate,
        itemStyle: { color: st.color }, silent: true, z: 5, clip: true,
      });
    });
  });
  return series;
}

function txt(x: number, y: number, text: string, size: number, align = 'left', extra: any = {}) {
  return {
    type: 'text', x, y, silent: true,
    style: {
      text, fontSize: size, fontFamily: FONT, fill: '#000',
      align, textAlign: align, verticalAlign: 'middle', textVerticalAlign: 'middle', ...extra,
    },
  };
}

function markerShape(key: string, cx: number, cy: number) {
  const color = STYLE[key].color;
  const style = { fill: color };
  if (key === 'dm') return { type: 'polygon', shape: { points: [[cx, cy - 4.5], [cx + 4.5, cy], [cx, cy + 4.5], [cx - 4.5, cy]] }, style };
  if (key === 'b1') return { type: 'rect', shape: { x: cx - 4, y: cy - 4, width: 8, height: 8 }, style };
  if (key === 'b2') return { type: 'circle', shape: { cx, cy, r: 4.2 }, style };
  if (key === 'b3') return { type: 'polygon', shape: { points: [[cx, cy - 4.5], [cx + 4.5, cy + 3.5], [cx - 4.5, cy + 3.5]] }, style };
  return { type: 'polygon', shape: { points: [[cx, cy + 4.5], [cx + 4.5, cy - 3.5], [cx - 4.5, cy - 3.5]] }, style };
}

function legendGroup(textRight: number, x1: number, x2: number, yStart: number, count: number) {
  const els: any[] = [];
  for (let i = 0; i < count; i++) {
    const key = LEGEND_KEYS[i];
    const color = STYLE[key].color;
    const y = yStart + i * 13.5;
    els.push(txt(textRight, y, LEGEND_LABELS[i], 13, 'right'));
    const s = { stroke: color, lineWidth: 1 };
    els.push({ type: 'line', silent: true, shape: { x1, y1: y, x2, y2: y }, style: s });
    els.push({ type: 'line', silent: true, shape: { x1, y1: y - 3, x2: x1, y2: y + 3 }, style: s });
    els.push({ type: 'line', silent: true, shape: { x1: x2, y1: y - 3, x2, y2: y + 3 }, style: s });
    els.push({ ...markerShape(key, (x1 + x2) / 2, y), silent: true });
  }
  return els;
}

function yTitle(cx: number, cy: number, supTop: string) {
  return {
    type: 'group', x: cx, y: cy, rotation: Math.PI / 2, silent: true,
    children: [
      txt(-55, 0, 'v', 14),
      txt(-47, -6, supTop, 10.5),
      txt(-47, 5, 'mean', 10.5),
      txt(-18, 0, '(r) [h', 14),
      txt(12, -6, '-1', 10.5),
      txt(22, 0, 'Mpc]', 14),
    ],
  };
}

function xTitle(cx: number, y: number) {
  return {
    type: 'group', x: cx, y, silent: true,
    children: [
      txt(-28, 0, 'r [h', 13),
      txt(-9.2, -5, '-1', 10),
      txt(-0.5, 0, 'Mpc]', 13),
    ],
  };
}

function buildGraphic() {
  const els: any[] = [];
  els.push(txt(187, 19, 'Real space', 13, 'center'));
  els.push(txt(198, 302.5, 'Redshift space', 13, 'center'));
  els.push(txt(272, 154, 'z=0', 13, 'center'));
  els.push(txt(535, 154, 'z=0.5', 13, 'center'));
  els.push(txt(787, 154, 'z=1', 13, 'center'));
  els.push(...legendGroup(252, 260, 298, 202, 5));
  els.push(...legendGroup(509, 517, 557, 202, 5));
  els.push(...legendGroup(767, 776, 815, 215, 4));
  els.push(yTitle(21, 134, 'r,h'));
  els.push(yTitle(21, 402, 's,h'));
  els.push(xTitle(185.5, 574));
  els.push(xTitle(443, 574));
  els.push(xTitle(701.5, 574));
  return els;
}

function buildOption() {
  const grids = PANELS.map((p) => ({
    left: COL_LEFT[p.col], top: ROW_TOP[p.row], width: COL_WIDTH[p.col], height: ROW_HEIGHT,
    show: true, borderColor: '#000', borderWidth: 1.5, backgroundColor: 'transparent', containLabel: false,
  }));
  const { xAxes, yAxes } = buildAxes();
  return {
    animation: false,
    backgroundColor: '#ffffff',
    textStyle: { fontFamily: FONT },
    grid: grids,
    xAxis: xAxes,
    yAxis: yAxes,
    series: buildSeries(),
    graphic: { elements: buildGraphic() },
  };
}

export default function App() {
  const ref = useRef<HTMLDivElement>(null);
  useEffect(() => {
    if (!ref.current) return;
    const chart = echarts.init(ref.current, null, { renderer: 'svg' });
    chart.setOption(buildOption() as any);
    return () => chart.dispose();
  }, []);
  return <div ref={ref} style={{ position: 'absolute', left: 0, top: 0, width: 830, height: 585 }} />;
}
